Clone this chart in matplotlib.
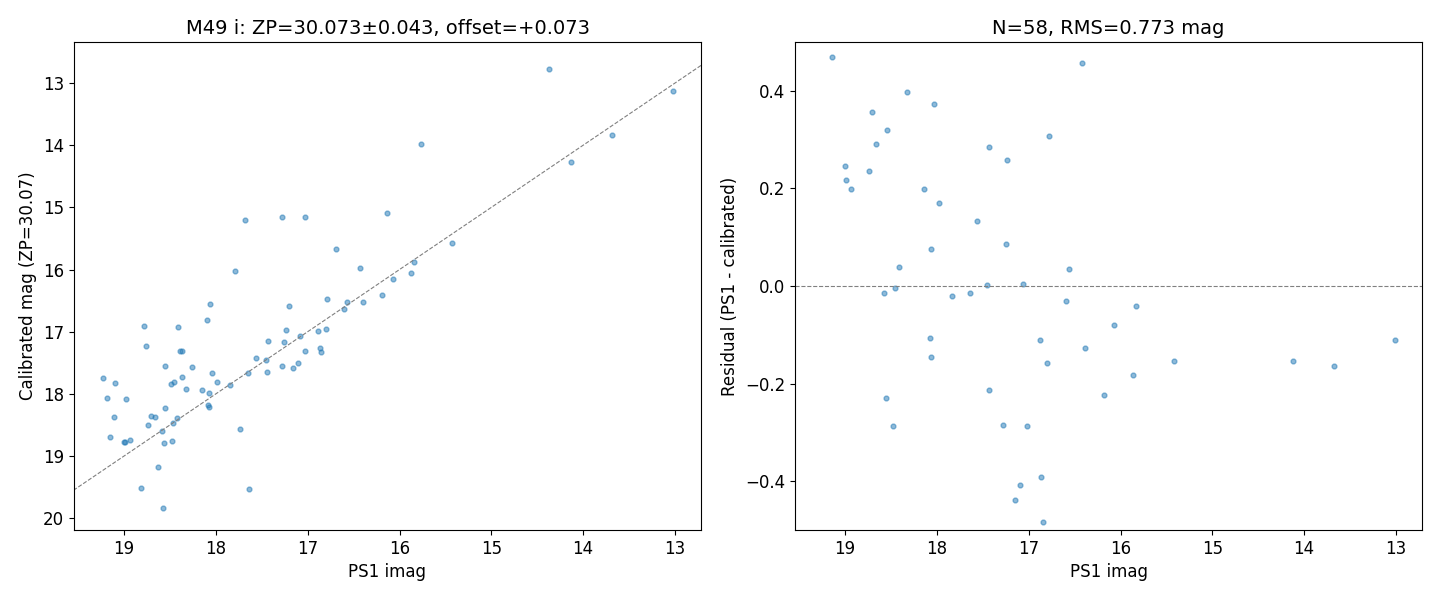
import matplotlib
matplotlib.use("Agg")
import matplotlib.pyplot as plt
import numpy as np

# Left panel: PS1 imag vs calibrated mag
ps1_all = [14.369, 13.018, 13.683, 15.763, 14.129, 17.679, 17.276, 17.026, 16.133, 15.425,
           16.688, 17.788, 16.427, 15.839, 15.871, 16.067, 18.060, 17.200, 16.786, 16.568,
           16.394, 16.187, 16.601, 18.093, 18.779, 18.409, 17.233, 16.884, 16.797, 17.080,
           17.429, 17.254, 17.026, 16.862, 16.851, 18.757, 18.390, 18.368, 17.559, 17.459,
           18.550, 18.256, 17.276, 17.156, 17.102, 19.225, 19.095, 18.365, 18.038, 17.646,
           17.440, 18.488, 18.452, 17.984, 18.322, 18.147, 17.842, 19.182, 18.975, 18.071,
           19.106, 18.550, 18.082, 18.071, 18.703, 18.659, 18.420, 18.463, 18.735, 19.149,
           18.583, 17.734, 18.997, 18.986, 18.931, 18.561, 18.474, 18.626, 18.812, 17.636,
           18.572]
cal_all = [12.780, 13.134, 13.842, 13.986, 14.276, 15.209, 15.161, 15.161, 15.097, 15.580,
           15.676, 16.030, 15.982, 15.885, 16.062, 16.159, 16.561, 16.594, 16.481, 16.529,
           16.529, 16.416, 16.642, 16.819, 16.915, 16.931, 16.980, 16.996, 16.964, 17.076,
           17.157, 17.173, 17.318, 17.269, 17.334, 17.237, 17.318, 17.318, 17.430, 17.462,
           17.559, 17.575, 17.559, 17.591, 17.511, 17.752, 17.833, 17.736, 17.672, 17.672,
           17.656, 17.849, 17.817, 17.817, 17.929, 17.945, 17.865, 18.074, 18.090, 17.994,
           18.380, 18.235, 18.187, 18.219, 18.364, 18.380, 18.396, 18.476, 18.509, 18.686,
           18.605, 18.573, 18.772, 18.782, 18.750, 18.798, 18.766, 19.184, 19.522, 19.538,
           19.844]

# Right panel: residuals of the retained stars
ps1_fit = [19.138, 18.322, 18.028, 18.703, 18.539, 18.659, 17.429, 17.233, 18.997, 18.735,
           18.986, 18.931, 18.136, 17.973, 17.559, 17.243, 18.060, 18.409, 17.450, 17.067,
           18.572, 18.452, 17.832, 17.636, 18.071, 18.060, 17.429, 18.550, 18.474, 17.276,
           17.015, 17.091, 17.145, 16.416, 16.775, 16.557, 16.590, 15.828, 16.067, 16.873,
           16.383, 16.797, 15.414, 15.860, 16.176, 16.862, 16.841, 14.118, 13.672, 13.007]
resid = [0.469, 0.397, 0.373, 0.356, 0.319, 0.291, 0.285, 0.258, 0.246, 0.235,
         0.217, 0.198, 0.198, 0.170, 0.133, 0.086, 0.075, 0.038, 0.003, 0.005,
         -0.015, -0.005, -0.021, -0.015, -0.107, -0.146, -0.214, -0.230, -0.286, -0.284,
         -0.286, -0.407, -0.438, 0.457, 0.307, 0.034, -0.031, -0.040, -0.079, -0.111,
         -0.128, -0.157, -0.154, -0.183, -0.224, -0.392, -0.483, -0.154, -0.163, -0.111]

title_left = "M49 i: ZP=30.073\u00b10.043, offset=+0.073"
title_right = "N=58, RMS=0.773 mag"

fig = plt.figure(figsize=(14.4, 6), dpi=100)
ax1 = fig.add_axes([74/1440, 70/600, 627/1440, 488/600])
ax2 = fig.add_axes([795/1440, 70/600, 627/1440, 488/600])

xlim = (19.545, 12.717)

ax1.scatter(ps1_all, cal_all, s=12, alpha=0.5, color="C0")
lo, hi = min(xlim), max(xlim)
ax1.plot([lo, hi], [lo, hi], ls="--", color="gray", lw=0.8)
ax1.set_xlim(*xlim)
ax1.set_ylim(20.19, 12.34)
ax1.set_xlabel("PS1 imag", fontsize=12)
ax1.set_ylabel("Calibrated mag (ZP=30.07)", fontsize=12)
ax1.set_title(title_left, fontsize=14)
ax1.tick_params(labelsize=12)

ax2.scatter(ps1_fit, resid, s=12, alpha=0.5, color="C0")
ax2.axhline(0, ls="--", color="gray", lw=0.8)
ax2.set_xlim(*xlim)
ax2.set_ylim(-0.5, 0.5)
ax2.set_xlabel("PS1 imag", fontsize=12)
ax2.set_ylabel("Residual (PS1 - calibrated)", fontsize=12)
ax2.set_title(title_right, fontsize=14)
ax2.tick_params(labelsize=12)

fig.savefig("out.png", dpi=100)
